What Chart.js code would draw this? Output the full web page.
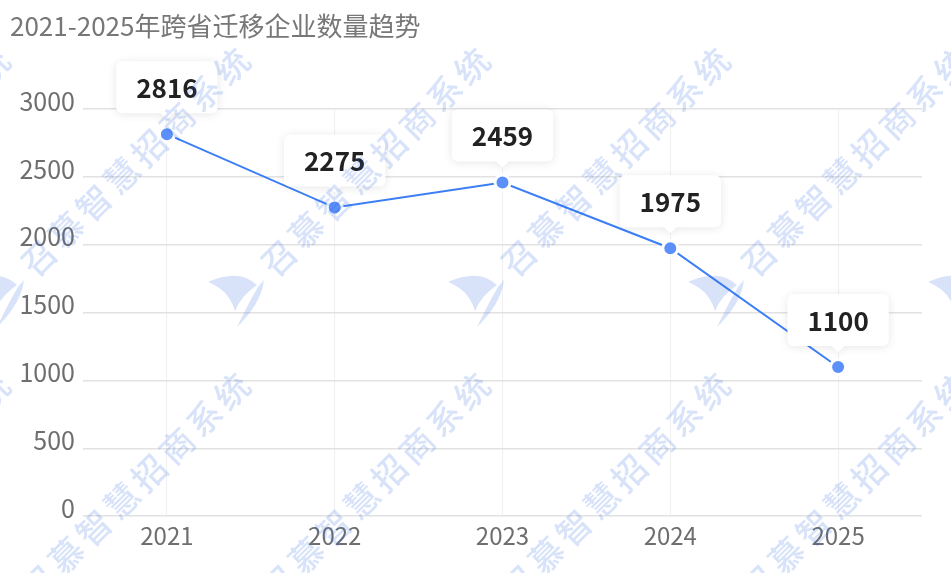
<!DOCTYPE html>
<html lang="zh-CN">
<head>
<meta charset="UTF-8">
<title>2021-2025年跨省迁移企业数量趋势</title>
<script src="https://cdn.jsdelivr.net/npm/chart.js@4.4.1/dist/chart.umd.min.js"></script>
<style>
  html, body { margin: 0; padding: 0; background: #fff; }
  #wrap { width: 951px; height: 573px; position: relative; }
</style>
</head>
<body>
<div id="wrap"><canvas id="trendChart"></canvas></div>
<script>
// 图表数据
const years = ['2021', '2022', '2023', '2024', '2025'];
const companyCounts = [2816, 2275, 2459, 1975, 1100];
const yTicks = [0, 500, 1000, 1500, 2000, 2500, 3000];
const chartTitle = '2021-2025年跨省迁移企业数量趋势';
const watermarkText = '召慕智慧招商系统';

const FONT = '"Noto Sans CJK SC", "Noto Sans", sans-serif';

// 数值气泡标签
const valueLabelPlugin = {
    id: 'valueLabel',
    afterDatasetsDraw(chart) {
        const ctx = chart.ctx;
        const meta = chart.getDatasetMeta(0);
        ctx.save();
        ctx.font = `bold 26px ${FONT}`;
        meta.data.forEach((pt, i) => {
            const text = String(companyCounts[i]);
            const w = ctx.measureText(text).width + 40;
            const h = 52;
            const x = pt.x - w / 2;
            const y = pt.y - 21 - h;

            // 白色背景 + 小三角
            ctx.save();
            ctx.shadowColor = 'rgba(0, 0, 0, 0.10)';
            ctx.shadowBlur = 10;
            ctx.shadowOffsetY = 1;
            ctx.fillStyle = '#fff';
            ctx.beginPath();
            ctx.roundRect(x, y, w, h, 6);
            ctx.moveTo(pt.x - 7, y + h - 0.5);
            ctx.lineTo(pt.x + 7, y + h - 0.5);
            ctx.lineTo(pt.x, y + h + 6);
            ctx.closePath();
            ctx.fill();
            ctx.restore();

            ctx.fillStyle = '#222';
            ctx.textAlign = 'center';
            ctx.textBaseline = 'middle';
            ctx.fillText(text, pt.x, y + h / 2 + 1);
        });
        ctx.restore();
    }
};

// 水印图标（帆形）
function drawLogo(ctx, cx, cy) {
    ctx.beginPath();
    ctx.moveTo(cx - 29, cy - 18);
    ctx.quadraticCurveTo(cx + 2, cy - 32, cx + 20, cy - 15);
    ctx.quadraticCurveTo(cx + 4, cy - 4, cx - 2, cy + 11);
    ctx.quadraticCurveTo(cx - 8, cy - 10, cx - 29, cy - 18);
    ctx.fill();

    ctx.beginPath();
    ctx.moveTo(cx + 27, cy - 20);
    ctx.quadraticCurveTo(cx + 24, cy + 4, cx, cy + 27);
    ctx.quadraticCurveTo(cx + 12, cy + 2, cx + 21, cy - 13);
    ctx.closePath();
    ctx.fill();
}

// 斜向水印
const watermarkPlugin = {
    id: 'watermark',
    afterDraw(chart) {
        const ctx = chart.ctx;
        const chars = watermarkText.split('');
        ctx.save();
        ctx.fillStyle = 'rgba(40, 100, 230, 0.18)';
        ctx.font = `500 34px ${FONT}`;
        ctx.textAlign = 'center';
        ctx.textBaseline = 'middle';
        for (let col = -1; col < 5; col++) {
            for (let row = 0; row < 2; row++) {
                const ex = 232 + col * 240;
                const ey = 66 + row * 325;
                chars.forEach((ch, k) => {
                    const step = chars.length - 1 - k;
                    ctx.save();
                    ctx.translate(ex - step * 27.6, ey + step * 27.4);
                    ctx.rotate(-Math.PI / 4);
                    ctx.fillText(ch, 0, 0);
                    ctx.restore();
                });
                drawLogo(ctx, ex + 5, ey + 234);
            }
        }
        ctx.restore();
    }
};

const ctx = document.getElementById('trendChart').getContext('2d');
window.trendChart = new Chart(ctx, {
    type: 'line',
    data: {
        labels: years,
        datasets: [{
            data: companyCounts,
            borderColor: '#3b7ef6',
            borderWidth: 2,
            pointRadius: 7.5,
            pointBackgroundColor: '#5b8ff9',
            pointBorderColor: '#fff',
            pointBorderWidth: 3,
            tension: 0,
            clip: false
        }]
    },
    options: {
        responsive: true,
        maintainAspectRatio: false,
        animation: false,
        layout: {
            padding: { left: 10, right: 29, top: 0, bottom: 18 }
        },
        plugins: {
            legend: { display: false },
            tooltip: { enabled: false },
            title: {
                display: true,
                text: chartTitle,
                align: 'start',
                color: '#777',
                font: { family: FONT, size: 26, weight: 'normal' },
                padding: { top: 11, bottom: 67 }
            }
        },
        scales: {
            x: {
                offset: true,
                grid: { offset: false, color: '#f0f0f0', drawTicks: false },
                border: { display: false },
                ticks: {
                    color: '#6e6e6e',
                    font: { family: FONT, size: 24 },
                    padding: 5
                }
            },
            y: {
                min: 0,
                max: 3000,
                afterBuildTicks: scale => {
                    scale.ticks = yTicks.map(v => ({ value: v }));
                },
                afterFit: scale => {
                    scale.width = 73;
                },
                grid: { color: '#e2e2e2', lineWidth: 1.5, drawTicks: false },
                border: { display: false },
                ticks: {
                    color: '#6e6e6e',
                    font: { family: FONT, size: 25 },
                    padding: 8,
                    labelOffset: -8,
                    callback: value => String(value)
                }
            }
        }
    },
    plugins: [valueLabelPlugin, watermarkPlugin]
});
</script>
</body>
</html>
